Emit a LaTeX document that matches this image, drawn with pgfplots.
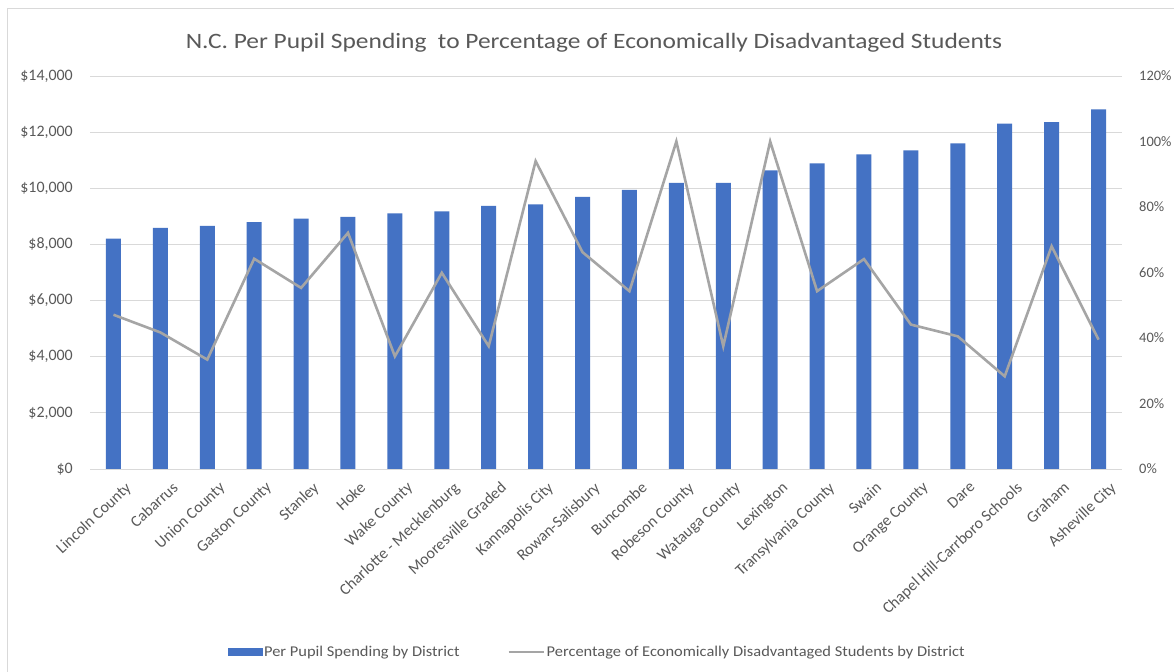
\documentclass[border=0pt]{standalone}
\usepackage{graphicx}
\usepackage{pgfplots}
\pgfplotsset{compat=1.18}
\usepackage{fontspec}
\setmainfont{Carlito}
\definecolor{barblue}{HTML}{4472C4}
\definecolor{linegray}{HTML}{A5A5A5}
\definecolor{txtgray}{HTML}{595959}
\definecolor{gridgray}{HTML}{D9D9D9}
\begin{document}
\begin{tikzpicture}
\useasboundingbox (0bp,0bp) rectangle (1174bp,672bp);
\fill[white] (0bp,0bp) rectangle (1174bp,672bp);
\draw[gridgray, line width=1bp] (7bp,0bp) -- (7bp,663bp) -- (1174bp,663bp);
\node[text=txtgray, font=\fontsize{22}{26}\selectfont, inner sep=0pt] at (594bp,629bp) {\scalebox{1.16}[1]{N.C. Per Pupil Spending\ \ to Percentage of Economically Disadvantaged Students}};
\begin{axis}[
  at={(90bp,203bp)}, anchor=south west,
  scale only axis, width=1032bp, height=393bp,
  xmin=-0.5, xmax=21.5, ymin=0, ymax=14000,
  axis y line*=left, axis x line*=bottom,
  x axis line style={draw=gridgray, line width=0.8bp, -},
  y axis line style={draw=none},
  scaled y ticks=false,
  xtick=data,
  xticklabels={Lincoln County,Cabarrus,Union County,Gaston County,Stanley,Hoke,Wake County,Charlotte - Mecklenburg,Mooresville Graded,Kannapolis City,Rowan-Salisbury,Buncombe,Robeson County,Watauga County,Lexington,Transylvania County,Swain,Orange County,Dare,Chapel Hill-Carrboro Schools,Graham,Asheville City},
  xticklabel style={rotate=43, anchor=north east, font=\fontsize{16}{18}\selectfont, text=txtgray, inner sep=0bp, xshift=0bp, yshift=-16bp},
  ytick={0,2000,4000,6000,8000,10000,12000,14000},
  yticklabels={{\$0},{\$2,000},{\$4,000},{\$6,000},{\$8,000},{\$10,000},{\$12,000},{\$14,000}},
  yticklabel style={font=\fontsize{16}{18}\selectfont, text=txtgray, anchor=east, inner sep=0bp, xshift=-17bp},
  major tick length=0pt,
  ymajorgrids, grid style={gridgray, line width=0.8bp},
  ybar, bar width=15bp,
]
\addplot[fill=barblue, draw=none] coordinates {
(0,8210) (1,8590) (2,8660) (3,8790) (4,8920) (5,8980) (6,9110) (7,9180) (8,9370) (9,9430) (10,9690)
(11,9940) (12,10190) (13,10190) (14,10640) (15,10890) (16,11210) (17,11350) (18,11600) (19,12300) (20,12360) (21,12810)};
\end{axis}
\begin{axis}[
  at={(90bp,203bp)}, anchor=south west,
  scale only axis, width=1032bp, height=393bp,
  xmin=-0.5, xmax=21.5, ymin=0, ymax=120,
  axis y line*=right, axis x line=none,
  y axis line style={draw=none},
  xtick=\empty,
  ytick={0,20,40,60,80,100,120},
  yticklabels={0\%,20\%,40\%,60\%,80\%,100\%,120\%},
  yticklabel style={font=\fontsize{14.5}{17}\selectfont, text=txtgray, anchor=west, inner sep=0bp, xshift=17bp},
  major tick length=0pt,
  legend columns=2,
  legend style={at={(0.4915,-0.466)}, anchor=center, draw=none, fill=none, font=\fontsize{15}{17}\selectfont, text=txtgray, /tikz/every even column/.append style={column sep=46bp}},
]
\addlegendimage{legend image code/.code={\fill[barblue] (0bp,-3.5bp) rectangle (34bp,3.5bp);}}
\addlegendentry{\scalebox{1.1}[1]{Per Pupil Spending by District}}
\addplot[linegray, line width=2.6bp, mark=none, legend image code/.code={\draw[linegray, line width=2bp] (0bp,0bp) -- (35bp,0bp);}] coordinates {
(0,47.1) (1,41.7) (2,33.4) (3,64.2) (4,55.3) (5,72.1) (6,34.4) (7,59.9) (8,37.5) (9,94.0) (10,66.2)
(11,54.3) (12,100) (13,37.5) (14,100) (15,54.3) (16,64.1) (17,44.1) (18,40.5) (19,28.3) (20,68.0) (21,39.5)};
\addlegendentry{\scalebox{1.1}[1]{Percentage of Economically Disadvantaged Students by District}}
\end{axis}
\end{tikzpicture}
\end{document}
